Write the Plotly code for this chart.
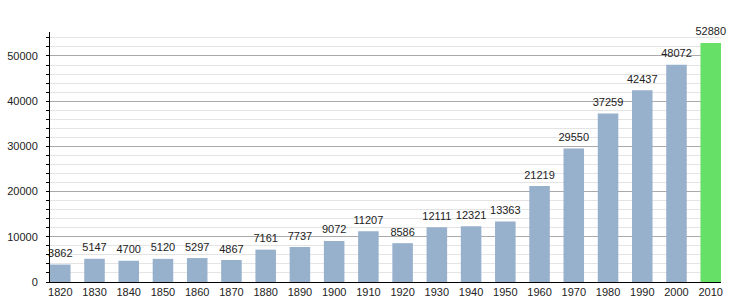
import plotly.graph_objects as go

years = ["1820", "1830", "1840", "1850", "1860", "1870", "1880", "1890", "1900", "1910",
         "1920", "1930", "1940", "1950", "1960", "1970", "1980", "1990", "2000", "2010"]
population = [3862, 5147, 4700, 5120, 5297, 4867, 7161, 7737, 9072, 11207,
              8586, 12111, 12321, 13363, 21219, 29550, 37259, 42437, 48072, 52880]

blue = "#97b0cc"
green = "#66e066"
colors = [blue] * (len(years) - 1) + [green]

fig = go.Figure()
fig.add_trace(go.Bar(
    x=years, y=population,
    marker=dict(color=colors, line=dict(width=0)),
    width=0.6,
    hoverinfo="x+y",
))
fig.add_trace(go.Scatter(
    x=years, y=population,
    mode="markers+text",
    marker=dict(size=6, color="rgba(0,0,0,0)"),
    text=[str(v) for v in population],
    textposition="top center",
    textfont=dict(size=11, color="#222222"),
    cliponaxis=False,
    hoverinfo="skip",
))

fig.update_layout(
    width=750, height=300,
    margin=dict(l=50, r=29, t=32, b=18),
    paper_bgcolor="white", plot_bgcolor="white",
    font=dict(family="Liberation Sans, Arial, sans-serif", size=11, color="#222222"),
    showlegend=False,
    xaxis=dict(
        type="category", range=[-0.3, 19.3], automargin=False,
        showline=True, linecolor="black", linewidth=1,
        showgrid=False, ticks="", tickfont=dict(size=11),
        ticklabelstandoff=0,
    ),
    yaxis=dict(
        range=[0, 55300], dtick=10000, tick0=0, tickformat="d", automargin=False,
        showline=True, linecolor="black", linewidth=1,
        showgrid=True, gridcolor="#aaaaaa", gridwidth=1,
        ticks="outside", ticklen=3, tickcolor="black",
        zeroline=False, tickfont=dict(size=11),
        ticklabelstandoff=6,
        minor=dict(dtick=2000, showgrid=True, gridcolor="#e4e4e4",
                   ticks="outside", ticklen=3, tickcolor="black"),
    ),
)

fig.write_html("out.html")
